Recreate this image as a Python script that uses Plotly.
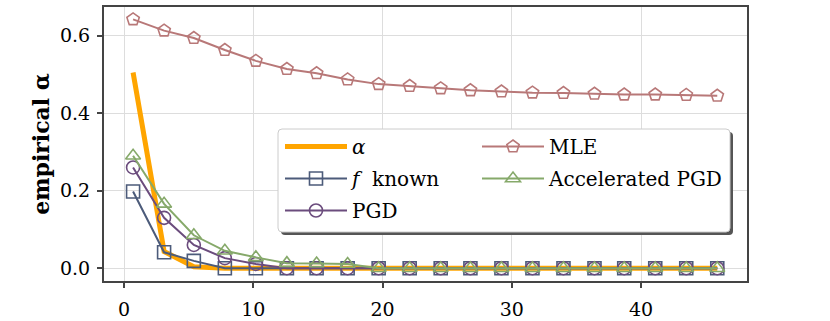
import plotly.graph_objects as go

x_vals = [0.7, 3.1, 5.4, 7.8, 10.2, 12.6, 14.9, 17.3, 19.7, 22.1,
          24.5, 26.8, 29.2, 31.6, 34.0, 36.4, 38.7, 41.1, 43.5, 45.9]
alpha = [0.505, 0.043, 0.004, 0.0, 0.0, 0.0, 0.0, 0.0, 0.0, 0.0,
         0.0, 0.0, 0.0, 0.0, 0.0, 0.0, 0.0, 0.0, 0.0, 0.0]
f_known = [0.198, 0.041, 0.019, 0.0, 0.0, 0.0, 0.0, 0.0, 0.0, 0.0,
           0.0, 0.0, 0.0, 0.0, 0.0, 0.0, 0.0, 0.0, 0.0, 0.0]
pgd = [0.26, 0.13, 0.06, 0.026, 0.011, 0.0, 0.0, 0.0, 0.0, 0.0,
       0.0, 0.0, 0.0, 0.0, 0.0, 0.0, 0.0, 0.0, 0.0, 0.0]
mle = [0.642, 0.613, 0.594, 0.563, 0.535, 0.514, 0.503, 0.487, 0.475, 0.470,
       0.464, 0.459, 0.456, 0.453, 0.452, 0.450, 0.448, 0.448, 0.447, 0.445]
acc_pgd = [0.29, 0.166, 0.085, 0.045, 0.028, 0.013, 0.012, 0.011, 0.0, 0.0,
           0.0, 0.0, 0.0, 0.0, 0.0, 0.0, 0.0, 0.0, 0.0, 0.0]

x_ticks = [0, 10, 20, 30, 40]
y_ticks = [0.0, 0.2, 0.4, 0.6]
y_tick_text = ["0.0", "0.2", "0.4", "0.6"]

W, H = 830, 321
L, R, T, B = 104, 83, 7, 40
PW, PH = W - L - R, H - T - B

FONT = "DejaVu Serif"
LFS = 20
TFS = 19

def px(xp):
    return (xp - L) / PW

def py(yp):
    return (H - B - yp) / PH

fig = go.Figure()

fig.add_trace(go.Scatter(x=x_vals, y=alpha, mode="lines", name="<i>α</i>",
                         line=dict(color="#FFA500", width=5), legend="legend", legendgroup="a"))
fig.add_trace(go.Scatter(x=x_vals, y=f_known, mode="lines+markers", name="<i>f</i>  known",
                         line=dict(color="#4C5B7A", width=2),
                         marker=dict(symbol="square-open", size=13, line=dict(width=1.6, color="#4C5B7A")),
                         legend="legend", legendgroup="b"))
fig.add_trace(go.Scatter(x=x_vals, y=pgd, mode="lines+markers", name="PGD",
                         line=dict(color="#6B4C7D", width=2),
                         marker=dict(symbol="circle-open", size=13, line=dict(width=1.6, color="#6B4C7D")),
                         legend="legend", legendgroup="c"))
fig.add_trace(go.Scatter(x=x_vals, y=mle, mode="lines+markers", name="MLE",
                         line=dict(color="#B87878", width=2),
                         marker=dict(symbol="pentagon-open", size=13, line=dict(width=1.6, color="#B87878")),
                         legend="legend2", legendgroup="d"))
fig.add_trace(go.Scatter(x=x_vals, y=acc_pgd, mode="lines+markers", name="Accelerated PGD",
                         line=dict(color="#86A96A", width=2),
                         marker=dict(symbol="triangle-up-open", size=13, line=dict(width=1.6, color="#86A96A")),
                         legend="legend2", legendgroup="e"))

def rrect(x0, y0, x1, y1, r):
    p = []
    p.append(f"M{px(x0 + r)},{py(y0)}")
    p.append(f"L{px(x1 - r)},{py(y0)}")
    p.append(f"Q{px(x1)},{py(y0)} {px(x1)},{py(y0 + r)}")
    p.append(f"L{px(x1)},{py(y1 - r)}")
    p.append(f"Q{px(x1)},{py(y1)} {px(x1 - r)},{py(y1)}")
    p.append(f"L{px(x0 + r)},{py(y1)}")
    p.append(f"Q{px(x0)},{py(y1)} {px(x0)},{py(y1 - r)}")
    p.append(f"L{px(x0)},{py(y0 + r)}")
    p.append(f"Q{px(x0)},{py(y0)} {px(x0 + r)},{py(y0)}")
    p.append("Z")
    return " ".join(p)

shapes = [
    dict(type="path", xref="paper", yref="paper", path=rrect(281, 132, 733, 235, 4),
         fillcolor="#555555", line=dict(width=0), layer="above"),
    dict(type="path", xref="paper", yref="paper", path=rrect(278, 129, 730, 232, 4),
         fillcolor="white", line=dict(width=1, color="#CCCCCC"), layer="above"),
]

fig.update_layout(
    width=W, height=H,
    margin=dict(l=L, r=R, t=T, b=B, autoexpand=False),
    paper_bgcolor="white", plot_bgcolor="white",
    font=dict(family=FONT, size=TFS, color="black"),
    shapes=shapes,
    legend=dict(x=px(280), y=py(127), xanchor="left", yanchor="top",
                bgcolor="rgba(0,0,0,0)", borderwidth=0,
                font=dict(family=FONT, size=LFS, color="black"), itemwidth=62,
                tracegroupgap=3),
    legend2=dict(x=px(477), y=py(127), xanchor="left", yanchor="top",
                 bgcolor="rgba(0,0,0,0)", borderwidth=0,
                 font=dict(family=FONT, size=LFS, color="black"), itemwidth=62,
                 tracegroupgap=3),
    xaxis=dict(range=[-1.55, 48.2], tickvals=x_ticks, ticktext=[str(v) for v in x_ticks],
               automargin=False,
               showgrid=True, gridcolor="#DDDDDD", gridwidth=1, zeroline=False,
               showline=True, linecolor="#444444", linewidth=2, mirror=True,
               ticks="outside", ticklen=5, tickwidth=1.5, tickcolor="#444444",
               ticklabelstandoff=5,
               tickfont=dict(family=FONT, size=TFS, color="black")),
    yaxis=dict(range=[-0.033, 0.674], tickvals=y_ticks, ticktext=y_tick_text,
               automargin=False,
               showgrid=True, gridcolor="#DDDDDD", gridwidth=1, zeroline=False,
               showline=True, linecolor="#444444", linewidth=2, mirror=True,
               ticks="outside", ticklen=5, tickwidth=1.5, tickcolor="#444444",
               ticklabelstandoff=3,
               tickfont=dict(family=FONT, size=TFS, color="black")),
)
fig.update_yaxes(title=dict(text="<b>empirical α</b>", font=dict(family=FONT, size=22, color="black"), standoff=4))

fig.write_html("out.html", config={"displayModeBar": False},
               post_script="document.body.style.margin='0';")
